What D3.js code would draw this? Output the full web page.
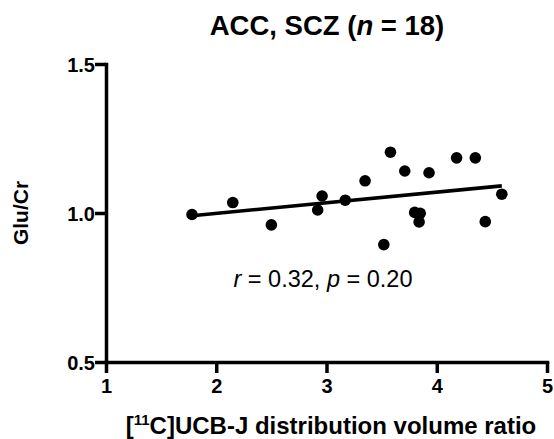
<!DOCTYPE html>
<html lang="en">
<head>
    <meta charset="UTF-8">
    <title>ACC, SCZ scatter</title>
    <script src="https://d3js.org/d3.v7.min.js"></script>
    <style>
        body { margin: 0; background: #fff; }
        text { font-family: "Liberation Sans", Arial, sans-serif; }
    </style>
</head>
<body>
    <svg></svg>
    <script>
        const w = 554;
        const h = 439;

        // [11C]UCB-J DVR vs Glu/Cr
        const dvr = [1.78, 2.15, 2.50, 2.92, 2.96, 3.17, 3.35, 3.52, 3.58,
                     3.71, 3.80, 3.85, 3.84, 3.93, 4.18, 4.35, 4.44, 4.59];
        const gluCr = [0.995, 1.035, 0.96, 1.01, 1.057, 1.043, 1.108, 0.894, 1.204,
                       1.141, 1.002, 0.999, 0.97, 1.135, 1.185, 1.185, 0.971, 1.063];
        const fitX = [1.78, 4.59];
        const fitY = [0.991, 1.091];
        const xTicks = [1, 2, 3, 4, 5];
        const yTicks = [0.5, 1.0, 1.5];

        const svg = d3.select("svg")
            .attr("width", w)
            .attr("height", h);

        const x = d3.scaleLinear().domain([1, 5]).range([106, 547]);
        const y = d3.scaleLinear().domain([0.5, 1.5]).range([362, 64]);

        const xAxis = svg.append('g')
            .attr('transform', `translate(0, ${y(0.5)})`)
            .call(d3.axisBottom(x).tickValues(xTicks).tickFormat(d3.format('d')).tickSize(11).tickSizeOuter(0));
        const yAxis = svg.append('g')
            .attr('transform', `translate(${x(1)}, 0)`)
            .call(d3.axisLeft(y).tickValues(yTicks).tickFormat(d3.format('.1f')).tickSize(11).tickSizeOuter(0));

        [xAxis, yAxis].forEach(a => {
            a.select('.domain').attr('stroke', '#000').attr('stroke-width', 3.5).attr('stroke-linecap', 'square');
            a.selectAll('.tick line').attr('stroke', '#000').attr('stroke-width', 3.5);
            a.selectAll('.tick text')
                .attr('fill', '#000')
                .style('font-family', '"Liberation Sans", Arial, sans-serif')
                .style('font-weight', 'bold')
                .style('font-size', '20px');
        });
        xAxis.selectAll('.tick text').attr('y', 13).attr('dy', '0.9em');
        yAxis.selectAll('.tick text').attr('x', -11).attr('dy', '0.36em');

        const line = d3.line()
            .x(d => x(d[0]))
            .y(d => y(d[1]));

        svg.append('path')
            .datum(d3.zip(fitX, fitY))
            .attr('fill', 'none')
            .attr('stroke', '#000')
            .attr('stroke-width', 3.6)
            .attr('d', line);

        svg.selectAll('circle')
            .data(d3.zip(dvr, gluCr))
            .enter()
            .append('circle')
            .attr('cx', d => x(d[0]))
            .attr('cy', d => y(d[1]))
            .attr('r', 5.8)
            .attr('fill', '#000');

        // title
        const title = svg.append('text')
            .attr('x', 327)
            .attr('y', 35)
            .attr('text-anchor', 'middle')
            .style('font-size', '27.5px')
            .style('font-weight', 'bold');
        title.append('tspan').text('ACC, SCZ (');
        title.append('tspan').style('font-style', 'italic').text('n');
        title.append('tspan').text(' = 18)');

        // stats annotation
        const stat = svg.append('text')
            .attr('x', 323)
            .attr('y', 287)
            .attr('text-anchor', 'middle')
            .style('font-size', '23.5px');
        stat.append('tspan').style('font-style', 'italic').text('r');
        stat.append('tspan').text(' = 0.32, ');
        stat.append('tspan').style('font-style', 'italic').text('p');
        stat.append('tspan').text(' = 0.20');

        // axis labels
        const xl = svg.append('text')
            .attr('x', 331)
            .attr('y', 434)
            .attr('text-anchor', 'middle')
            .style('font-size', '24px')
            .style('font-weight', 'bold');
        xl.append('tspan').text('[');
        xl.append('tspan').attr('dy', -9).style('font-size', '15px').text('11');
        xl.append('tspan').attr('dy', 9).text('C]UCB-J distribution volume ratio');

        svg.append('text')
            .attr('transform', `translate(28, ${(y(0.5) + y(1.5)) / 2}) rotate(-90)`)
            .attr('text-anchor', 'middle')
            .style('font-size', '21px')
            .style('font-weight', 'bold')
            .text('Glu/Cr');
    </script>
</body>
</html>
